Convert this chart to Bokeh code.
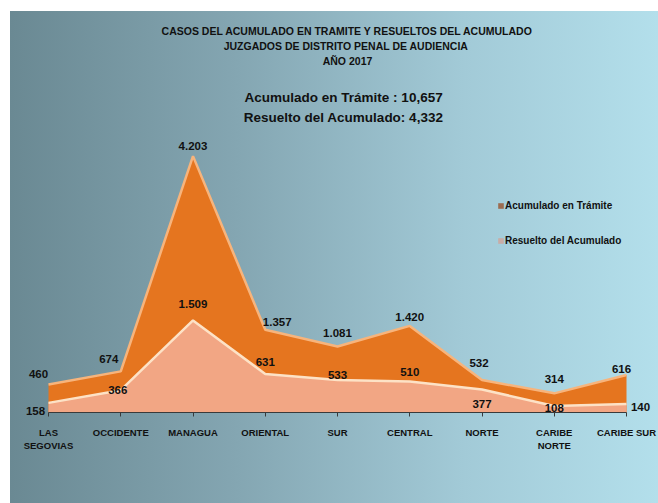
from bokeh.plotting import figure
from bokeh.models import ColumnDataSource, Range1d, FixedTicker, Label, LabelSet, Legend, LegendItem
from bokeh.core.properties import value
from bokeh.embed import file_html
from bokeh.resources import INLINE

# ---- data ----
categories = ["LAS\nSEGOVIAS", "OCCIDENTE", "MANAGUA", "ORIENTAL", "SUR",
              "CENTRAL", "NORTE", "CARIBE\nNORTE", "CARIBE SUR"]
acumulado = [460, 674, 4203, 1357, 1081, 1420, 532, 314, 616]
resuelto = [158, 366, 1509, 631, 533, 510, 377, 108, 140]
series_names = ["Acumulado en Trámite", "Resuelto del Acumulado"]
title_lines = ["CASOS DEL ACUMULADO EN TRAMITE Y RESUELTOS DEL ACUMULADO",
               "JUZGADOS DE DISTRITO  PENAL DE AUDIENCIA",
               "AÑO 2017"]
total_acumulado = "10,657"
total_resuelto = "4,332"

# label offsets (screen px, positive dy = up) for data labels
acu_dx = [-10, -12, 0, 12, 0, 0, -3, 0, -5]
acu_dy = [10, 12, 10, 8, 14, 9, 17, 14, 6]
res_dx = [-13, -3, 0, 0, 0, 0, 0, 0, 14]
res_dy = [-8, 0, 16, 12, 5, 9, -14, -2, -3]

FONT = "Liberation Sans"
PXU = 0.061      # pixels per unit on y
XPX = 72.25      # pixels per category

xs = list(range(len(categories)))

def fmt(v):
    return f"{v:,}".replace(",", ".")

def yd(py):   # page y -> data y (baseline at page y 412)
    return (412 - py) / PXU

def xd(px):   # page x -> data x (first category at page x 48)
    return (px - 48) / XPX

p = figure(width=648, height=492, output_backend="svg", toolbar_location=None,
           x_range=Range1d(-38 / XPX, 8 + 32 / XPX), y_range=Range1d(yd(503), yd(11)),
           min_border_left=0, min_border_right=0, min_border_top=0, min_border_bottom=0)
p.styles = {"background": "linear-gradient(to right, #6a8993 0%, #84a6b2 35%, #a2cad7 70%, #b3dfeb 100%)",
            "margin-left": "10px", "margin-top": "11px"}
p.background_fill_alpha = 0
p.border_fill_alpha = 0
p.outline_line_color = None
p.xgrid.visible = False
p.ygrid.visible = False
p.yaxis.visible = False

src = ColumnDataSource(dict(x=xs, acu=acumulado, res=resuelto,
                            acu_t=[fmt(v) for v in acumulado],
                            res_t=[fmt(v) for v in resuelto],
                            acu_dx=acu_dx, acu_dy=acu_dy, res_dx=res_dx, res_dy=res_dy))

# areas
p.varea(x="x", y1=0, y2="acu", source=src, fill_color="#e5751f")
p.line(x="x", y="acu", source=src, line_color="#f7b47c", line_width=2.5)
p.varea(x="x", y1=0, y2="res", source=src, fill_color="#f2a684")
p.line(x="x", y="res", source=src, line_color="#fde2c6", line_width=2.5)

# data labels
lab_kw = dict(text_font=value(FONT), text_font_style="bold", text_font_size="11.5px",
              text_color="#111111", text_align="center", text_baseline="middle")
p.add_layout(LabelSet(x="x", y="acu", text="acu_t", source=src,
                      x_offset="acu_dx", y_offset="acu_dy", **lab_kw))
p.add_layout(LabelSet(x="x", y="res", text="res_t", source=src,
                      x_offset="res_dx", y_offset="res_dy", **lab_kw))

# axis at the baseline
ax = p.xaxis[0]
ax.fixed_location = 0
ax.ticker = FixedTicker(ticks=xs)
ax.major_label_overrides = {i: c for i, c in enumerate(categories)}
ax.bounds = (0, len(categories) - 1)
ax.axis_line_color = "#3a3a3a"
ax.major_tick_line_color = "#3a3a3a"
ax.major_tick_out = 4
ax.major_tick_in = 0
ax.minor_tick_line_color = None
ax.major_label_standoff = 10
ax.major_label_text_font = FONT
ax.major_label_text_font_style = "bold"
ax.major_label_text_font_size = "9.5px"
ax.major_label_text_color = "#111111"

# titles
for i, t in enumerate(title_lines):
    p.add_layout(Label(x=xd(347), y=yd(30 + 15 * i), text=t, text_align="center",
                       text_baseline="middle", text_font=FONT, text_font_style="bold",
                       text_font_size="10.5px", text_color="#111111"))
sub = [f"{series_names[0]} :  {total_acumulado}", f"Resuelto del Acumulado:  {total_resuelto}"]
for i, t in enumerate(sub):
    p.add_layout(Label(x=xd(345), y=yd(97 + 20 * i), text=t, text_align="center",
                       text_baseline="middle", text_font=FONT, text_font_style="bold",
                       text_font_size="13.5px", text_color="#111111"))

# legend (swatches only; NaN keeps them off the plot)
nan = float("nan")
r1 = p.quad(left=[nan], right=[nan], top=[nan], bottom=[nan], fill_color="#9c6c50", line_color=None)
r2 = p.quad(left=[nan], right=[nan], top=[nan], bottom=[nan], fill_color="#c9aca6", line_color=None)
legend = Legend(items=[LegendItem(label=series_names[0], renderers=[r1]),
                       LegendItem(label=series_names[1], renderers=[r2])],
                location=(487, 166 + 91), orientation="vertical",
                glyph_width=7, glyph_height=7, label_standoff=1, spacing=24,
                padding=0, margin=0, border_line_color=None, background_fill_alpha=0,
                label_text_font=FONT, label_text_font_style="bold",
                label_text_font_size="10px", label_text_color="#111111")
p.add_layout(legend)

open("out.html", "w").write(file_html(p, INLINE))
